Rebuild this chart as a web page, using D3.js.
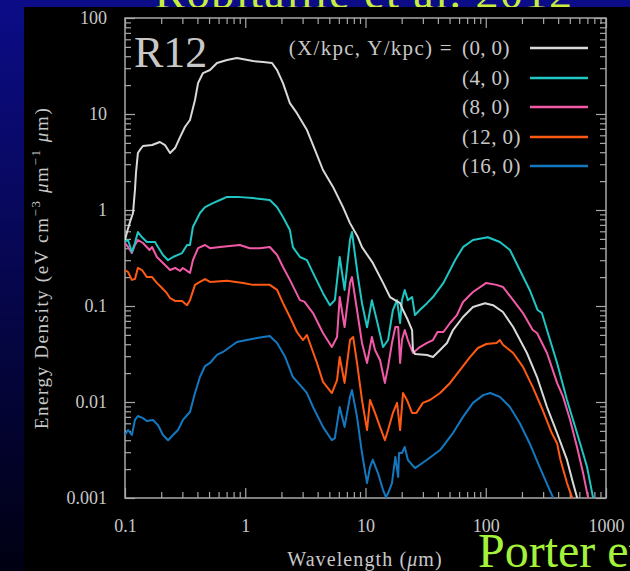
<!DOCTYPE html>
<html><head><meta charset="utf-8">
<script src="https://cdn.jsdelivr.net/npm/d3@7"></script>
<style>
html,body{margin:0;padding:0;width:630px;height:571px;overflow:hidden;background:linear-gradient(#0c0c88,#000012);}
svg{display:block;}
</style></head><body>
<script>
const xTickLabels = ["0.1","1","10","100","1000"];
const yTickLabels = ["0.001","0.01","0.1","1","10","100"];
const seriesNames = ["(0, 0)","(4, 0)","(8, 0)","(12, 0)","(16, 0)"];
const seriesColors = ["#d9d9d9","#1fc6c4","#f25aa8","#ff5a14","#1478c0"];

const s00 = [[0.1,0.487],[0.104,0.59],[0.110,0.75],[0.1166,0.93],[0.121,1.62],[0.1234,2.43],[0.128,3.92],[0.133,4.22],[0.141,4.64],[0.168,4.75],[0.195,5.11],[0.215,4.75],[0.237,3.92],[0.261,4.42],[0.287,5.75],[0.315,7.32],[0.347,8.66],[0.382,14.0],[0.405,21.0],[0.445,26.7],[0.509,28.7],[0.582,34.0],[0.705,36.5],[0.853,38.3],[1.16,35.6],[1.41,34.8],[1.67,34.0],[1.84,28.7],[2.06,21.0],[2.35,13.0],[2.69,10.2],[3.26,6.81],[3.80,4.22],[4.43,2.61],[5.37,1.74],[6.5,1.07],[7.43,0.73],[8.66,0.52],[9.35,0.41],[11.5,0.281],[14.0,0.174],[16.0,0.124],[17.6,0.115],[19.4,0.107],[20.5,0.0908],[22.5,0.0714],[24.4,0.0562],[24.8,0.0348],[25.8,0.0316],[32.5,0.0309],[36.4,0.0294],[41.7,0.0348],[47.6,0.0412],[53.4,0.0562],[64.7,0.0768],[78.3,0.0976],[98.6,0.107],[115,0.102],[139,0.0866],[169,0.0604],[220,0.0324],[267,0.0182],[323,0.00887],[392,0.00475],[474,0.00249],[532,0.00143],[574,0.00102],[600,0.0008]];

const s40 = [[0.1,0.464],[0.106,0.487],[0.114,0.365],[0.121,0.453],[0.128,0.59],[0.1385,0.52],[0.152,0.464],[0.1775,0.464],[0.188,0.412],[0.207,0.34],[0.228,0.30],[0.251,0.324],[0.298,0.356],[0.328,0.432],[0.347,0.432],[0.367,0.665],[0.42,0.93],[0.463,1.07],[0.539,1.18],[0.617,1.27],[0.705,1.37],[0.853,1.37],[1.16,1.33],[1.60,1.27],[1.84,1.07],[2.06,0.845],[2.35,0.62],[2.49,0.41],[2.85,0.324],[3.26,0.30],[3.66,0.221],[4.43,0.136],[5.06,0.102],[5.56,0.115],[6.1,0.324],[6.7,0.147],[7.43,0.487],[7.72,0.59],[8.66,0.20],[9.35,0.107],[10.3,0.060],[11.3,0.115],[12.4,0.0714],[14.0,0.0374],[15.4,0.0442],[16.9,0.0908],[18.3,0.115],[19.4,0.0665],[20.1,0.115],[21.2,0.147],[22.5,0.115],[24.4,0.124],[25.8,0.0805],[28.3,0.0908],[32.5,0.107],[36.4,0.124],[44.5,0.174],[55.6,0.30],[64.7,0.41],[78.3,0.487],[104,0.52],[131,0.464],[159,0.383],[192,0.237],[232,0.147],[270,0.0908],[293,0.0845],[323,0.0562],[392,0.0255],[474,0.0105],[574,0.00475],[696,0.0021],[779,0.00102],[820,0.0008]];

const s80 = [[0.1,0.453],[0.106,0.412],[0.114,0.356],[0.121,0.432],[0.128,0.487],[0.141,0.453],[0.16,0.383],[0.168,0.412],[0.184,0.324],[0.207,0.281],[0.237,0.237],[0.261,0.249],[0.287,0.232],[0.303,0.249],[0.347,0.221],[0.367,0.30],[0.405,0.40],[0.463,0.432],[0.509,0.40],[0.617,0.412],[0.9,0.432],[1.09,0.40],[1.32,0.40],[1.6,0.412],[1.84,0.34],[2.06,0.255],[2.35,0.187],[2.85,0.115],[3.1,0.111],[3.66,0.0845],[4.43,0.0523],[5.25,0.0374],[5.8,0.0475],[6.1,0.124],[6.7,0.0604],[7.43,0.174],[7.72,0.20],[8.5,0.0908],[9.35,0.0412],[10.3,0.0255],[11.3,0.0475],[12.0,0.0348],[13.2,0.0274],[14.5,0.0158],[15.4,0.0232],[16.6,0.0412],[17.7,0.0604],[18.7,0.0604],[19.4,0.0255],[20.1,0.0442],[21.2,0.0562],[22.5,0.0442],[24.8,0.0324],[28.3,0.0374],[32.5,0.0412],[36.4,0.0442],[39.7,0.0536],[44.5,0.0536],[50.5,0.0665],[57.6,0.0805],[64.7,0.110],[78.3,0.14],[101,0.174],[123,0.166],[139,0.158],[169,0.115],[204,0.0845],[246,0.0562],[267,0.0523],[323,0.0324],[392,0.0158],[440,0.0113],[503,0.0065],[574,0.0034],[645,0.00182],[708,0.00102],[740,0.0008]];

const s120 = [[0.1,0.237],[0.106,0.226],[0.114,0.187],[0.121,0.191],[0.128,0.249],[0.1385,0.237],[0.152,0.20],[0.168,0.20],[0.184,0.174],[0.203,0.154],[0.223,0.136],[0.237,0.121],[0.261,0.113],[0.298,0.113],[0.328,0.102],[0.347,0.115],[0.382,0.166],[0.42,0.178],[0.463,0.191],[0.509,0.178],[0.705,0.183],[0.96,0.174],[1.16,0.166],[1.6,0.166],[1.84,0.147],[2.06,0.107],[2.35,0.0768],[2.69,0.0536],[3.02,0.0442],[3.26,0.0499],[3.44,0.0412],[3.95,0.0255],[4.43,0.0162],[5.25,0.0124],[5.8,0.0169],[6.1,0.0294],[6.7,0.0158],[7.43,0.0442],[7.9,0.0475],[8.5,0.0255],[9.35,0.0105],[10.3,0.0051],[10.9,0.0105],[12.0,0.0077],[13.2,0.0055],[14.5,0.0040],[15.4,0.0051],[16.9,0.0077],[18.3,0.0098],[19.4,0.0051],[20.5,0.0124],[22.1,0.0105],[24.4,0.0077],[26.5,0.0077],[30.0,0.0098],[34.4,0.0105],[41.7,0.0124],[50.5,0.0158],[61.0,0.0215],[73.9,0.0294],[86.1,0.0365],[101,0.0402],[123,0.0412],[131,0.0442],[139,0.0395],[169,0.0324],[204,0.0232],[246,0.0143],[297,0.0083],[354,0.00475],[392,0.0037],[418,0.0025],[474,0.00143],[521,0.00102],[545,0.0008]];

const s160 = [[0.1,0.00453],[0.106,0.0051],[0.114,0.00453],[0.121,0.0065],[0.128,0.00715],[0.141,0.0068],[0.152,0.00634],[0.171,0.0065],[0.188,0.00575],[0.207,0.00453],[0.228,0.0040],[0.251,0.00453],[0.276,0.0051],[0.303,0.0065],[0.347,0.00787],[0.382,0.0124],[0.42,0.0182],[0.463,0.0237],[0.509,0.0255],[0.582,0.0309],[0.653,0.0332],[0.746,0.0374],[0.853,0.0422],[1.03,0.0442],[1.25,0.0464],[1.60,0.0487],[1.84,0.0412],[2.15,0.0294],[2.49,0.0182],[2.96,0.0143],[3.26,0.0124],[3.66,0.00887],[4.43,0.0055],[5.25,0.0040],[5.56,0.0042],[6.1,0.00887],[6.7,0.0055],[7.43,0.0113],[7.72,0.0133],[8.5,0.0070],[9.35,0.00294],[10.3,0.00143],[10.9,0.0021],[11.5,0.0025],[12.7,0.00182],[14.0,0.00121],[14.8,0.00102],[15.4,0.00112],[16.6,0.00143],[17.7,0.00267],[18.7,0.00166],[19.0,0.00294],[20.1,0.00294],[21.2,0.0034],[22.5,0.0025],[25.8,0.00205],[32.5,0.0025],[41.7,0.00316],[53.4,0.00475],[64.7,0.0070],[78.3,0.0098],[95.2,0.0118],[109,0.0124],[131,0.0113],[159,0.00887],[192,0.0060],[232,0.0037],[281,0.0021],[332,0.0013],[364,0.0010],[380,0.0008]];

const allSeries = [s00, s40, s80, s120, s160];

const W = 630, H = 571;
const m = {left:125, right:606, top:18, bottom:498};
const svg = d3.select("body").append("svg").attr("width",W).attr("height",H);
const serif = "'Liberation Serif','DejaVu Serif',serif";
const txtCol = "#c8c8c8", axCol = "#a8a8a8";

// clipped title at top
svg.append("text").attr("x",364).attr("y",8).attr("text-anchor","middle")
  .attr("font-family",serif).attr("font-size",46).attr("letter-spacing",1.5).attr("fill","#c8ee3c")
  .text("Robitaille et al. 2012");
svg.append("rect").attr("x",24).attr("y",7).attr("width",W-24).attr("height",H-7).attr("fill","#000");

const x = d3.scaleLog().domain([0.1,1000]).range([m.left,m.right]);
const y = d3.scaleLog().domain([0.001,100]).range([m.bottom,m.top]);

function minorTicks(lo,hi){const t=[];for(let e=lo;e<hi;e++){for(let k=1;k<10;k++)t.push(k*Math.pow(10,e));}t.push(Math.pow(10,hi));return t;}
const xt = minorTicks(-1,3), yt = minorTicks(-3,2);
const isDec = v => Math.abs(Math.log10(v)-Math.round(Math.log10(v)))<1e-9;
const xLab = v => xTickLabels[Math.round(Math.log10(v))+1];
const yLab = v => yTickLabels[Math.round(Math.log10(v))+3];

function styleAxis(g){
  g.select(".domain").remove();
  g.selectAll("line").attr("stroke",axCol).attr("stroke-width",1.2);
  g.selectAll("text").attr("fill",txtCol).attr("font-family",serif).attr("font-size",18);
  g.selectAll(".tick").filter(d=>!isDec(d)).select("text").remove();
}
const gb = svg.append("g").attr("transform",`translate(0,${m.bottom})`)
  .call(d3.axisBottom(x).tickValues(xt).tickSize(-6).tickPadding(21).tickFormat(v=>isDec(v)?xLab(v):""));
styleAxis(gb);
gb.selectAll(".tick").filter(d=>isDec(d)).select("line").attr("y2",-10);
const gt = svg.append("g").attr("transform",`translate(0,${m.top})`)
  .call(d3.axisTop(x).tickValues(xt).tickSize(-6).tickFormat(""));
styleAxis(gt);
gt.selectAll("text").remove();
gt.selectAll(".tick").filter(d=>isDec(d)).select("line").attr("y2",10);
const gl = svg.append("g").attr("transform",`translate(${m.left},0)`)
  .call(d3.axisLeft(y).tickValues(yt).tickSize(-6).tickPadding(18).tickFormat(v=>isDec(v)?yLab(v):""));
styleAxis(gl);
gl.selectAll(".tick").filter(d=>isDec(d)).select("line").attr("x2",10);
const gr = svg.append("g").attr("transform",`translate(${m.right},0)`)
  .call(d3.axisRight(y).tickValues(yt).tickSize(-6).tickFormat(""));
styleAxis(gr);
gr.selectAll("text").remove();
gr.selectAll(".tick").filter(d=>isDec(d)).select("line").attr("x2",-10);

svg.append("rect").attr("x",m.left).attr("y",m.top).attr("width",m.right-m.left).attr("height",m.bottom-m.top)
  .attr("fill","none").attr("stroke",axCol).attr("stroke-width",1.5);

svg.append("clipPath").attr("id","clip").append("rect")
  .attr("x",m.left).attr("y",m.top).attr("width",m.right-m.left).attr("height",m.bottom-m.top);

const line = d3.line().x(d=>x(d[0])).y(d=>y(d[1]));
const gLines = svg.append("g").attr("clip-path","url(#clip)");
for (let i=allSeries.length-1;i>=0;i--){
  gLines.append("path").datum(allSeries[i]).attr("d",line)
    .attr("fill","none").attr("stroke",seriesColors[i]).attr("stroke-width",2).attr("stroke-linejoin","round");
}

// R12
svg.append("text").attr("x",134).attr("y",67).attr("font-family",serif).attr("font-size",44)
  .attr("fill",txtCol).text("R12");

// legend
const legY = [48,78,107,137,166];
svg.append("text").attr("x",453).attr("y",legY[0]+7).attr("text-anchor","end")
  .attr("font-family",serif).attr("font-size",21).attr("letter-spacing",1.3).attr("fill",txtCol).text("(X/kpc, Y/kpc) =");
seriesNames.forEach((n,i)=>{
  svg.append("text").attr("x",462).attr("y",legY[i]+7).attr("font-family",serif).attr("font-size",21)
    .attr("letter-spacing",0.4).attr("fill",txtCol).text(n);
  svg.append("line").attr("x1",530).attr("x2",588).attr("y1",legY[i]).attr("y2",legY[i])
    .attr("stroke",seriesColors[i]).attr("stroke-width",2.5);
});

// axis labels
svg.append("text").attr("x",365).attr("y",566).attr("text-anchor","middle")
  .attr("font-family",serif).attr("font-size",20).attr("letter-spacing",1.1).attr("fill",txtCol)
  .html('Wavelength (<tspan font-style="italic">μ</tspan>m)');
const yl = svg.append("text").attr("transform","translate(48,268) rotate(-90)").attr("text-anchor","middle")
  .attr("font-family",serif).attr("font-size",19).attr("letter-spacing",1.6).attr("fill",txtCol);
yl.append("tspan").text("Energy Density (eV cm");
yl.append("tspan").attr("font-size",13).attr("dy",-8).text("−3");
yl.append("tspan").attr("dy",8).text(" ");
yl.append("tspan").attr("font-style","italic").text("μ");
yl.append("tspan").text("m");
yl.append("tspan").attr("font-size",13).attr("dy",-8).text("−1");
yl.append("tspan").attr("dy",8).text(" ");
yl.append("tspan").attr("font-style","italic").text("μ");
yl.append("tspan").text("m)");

// Porter text
svg.append("text").attr("x",478).attr("y",567).attr("font-family",serif).attr("font-size",48)
  .attr("fill","#a4f23a").text("Porter et al.");
</script>
</body></html>
